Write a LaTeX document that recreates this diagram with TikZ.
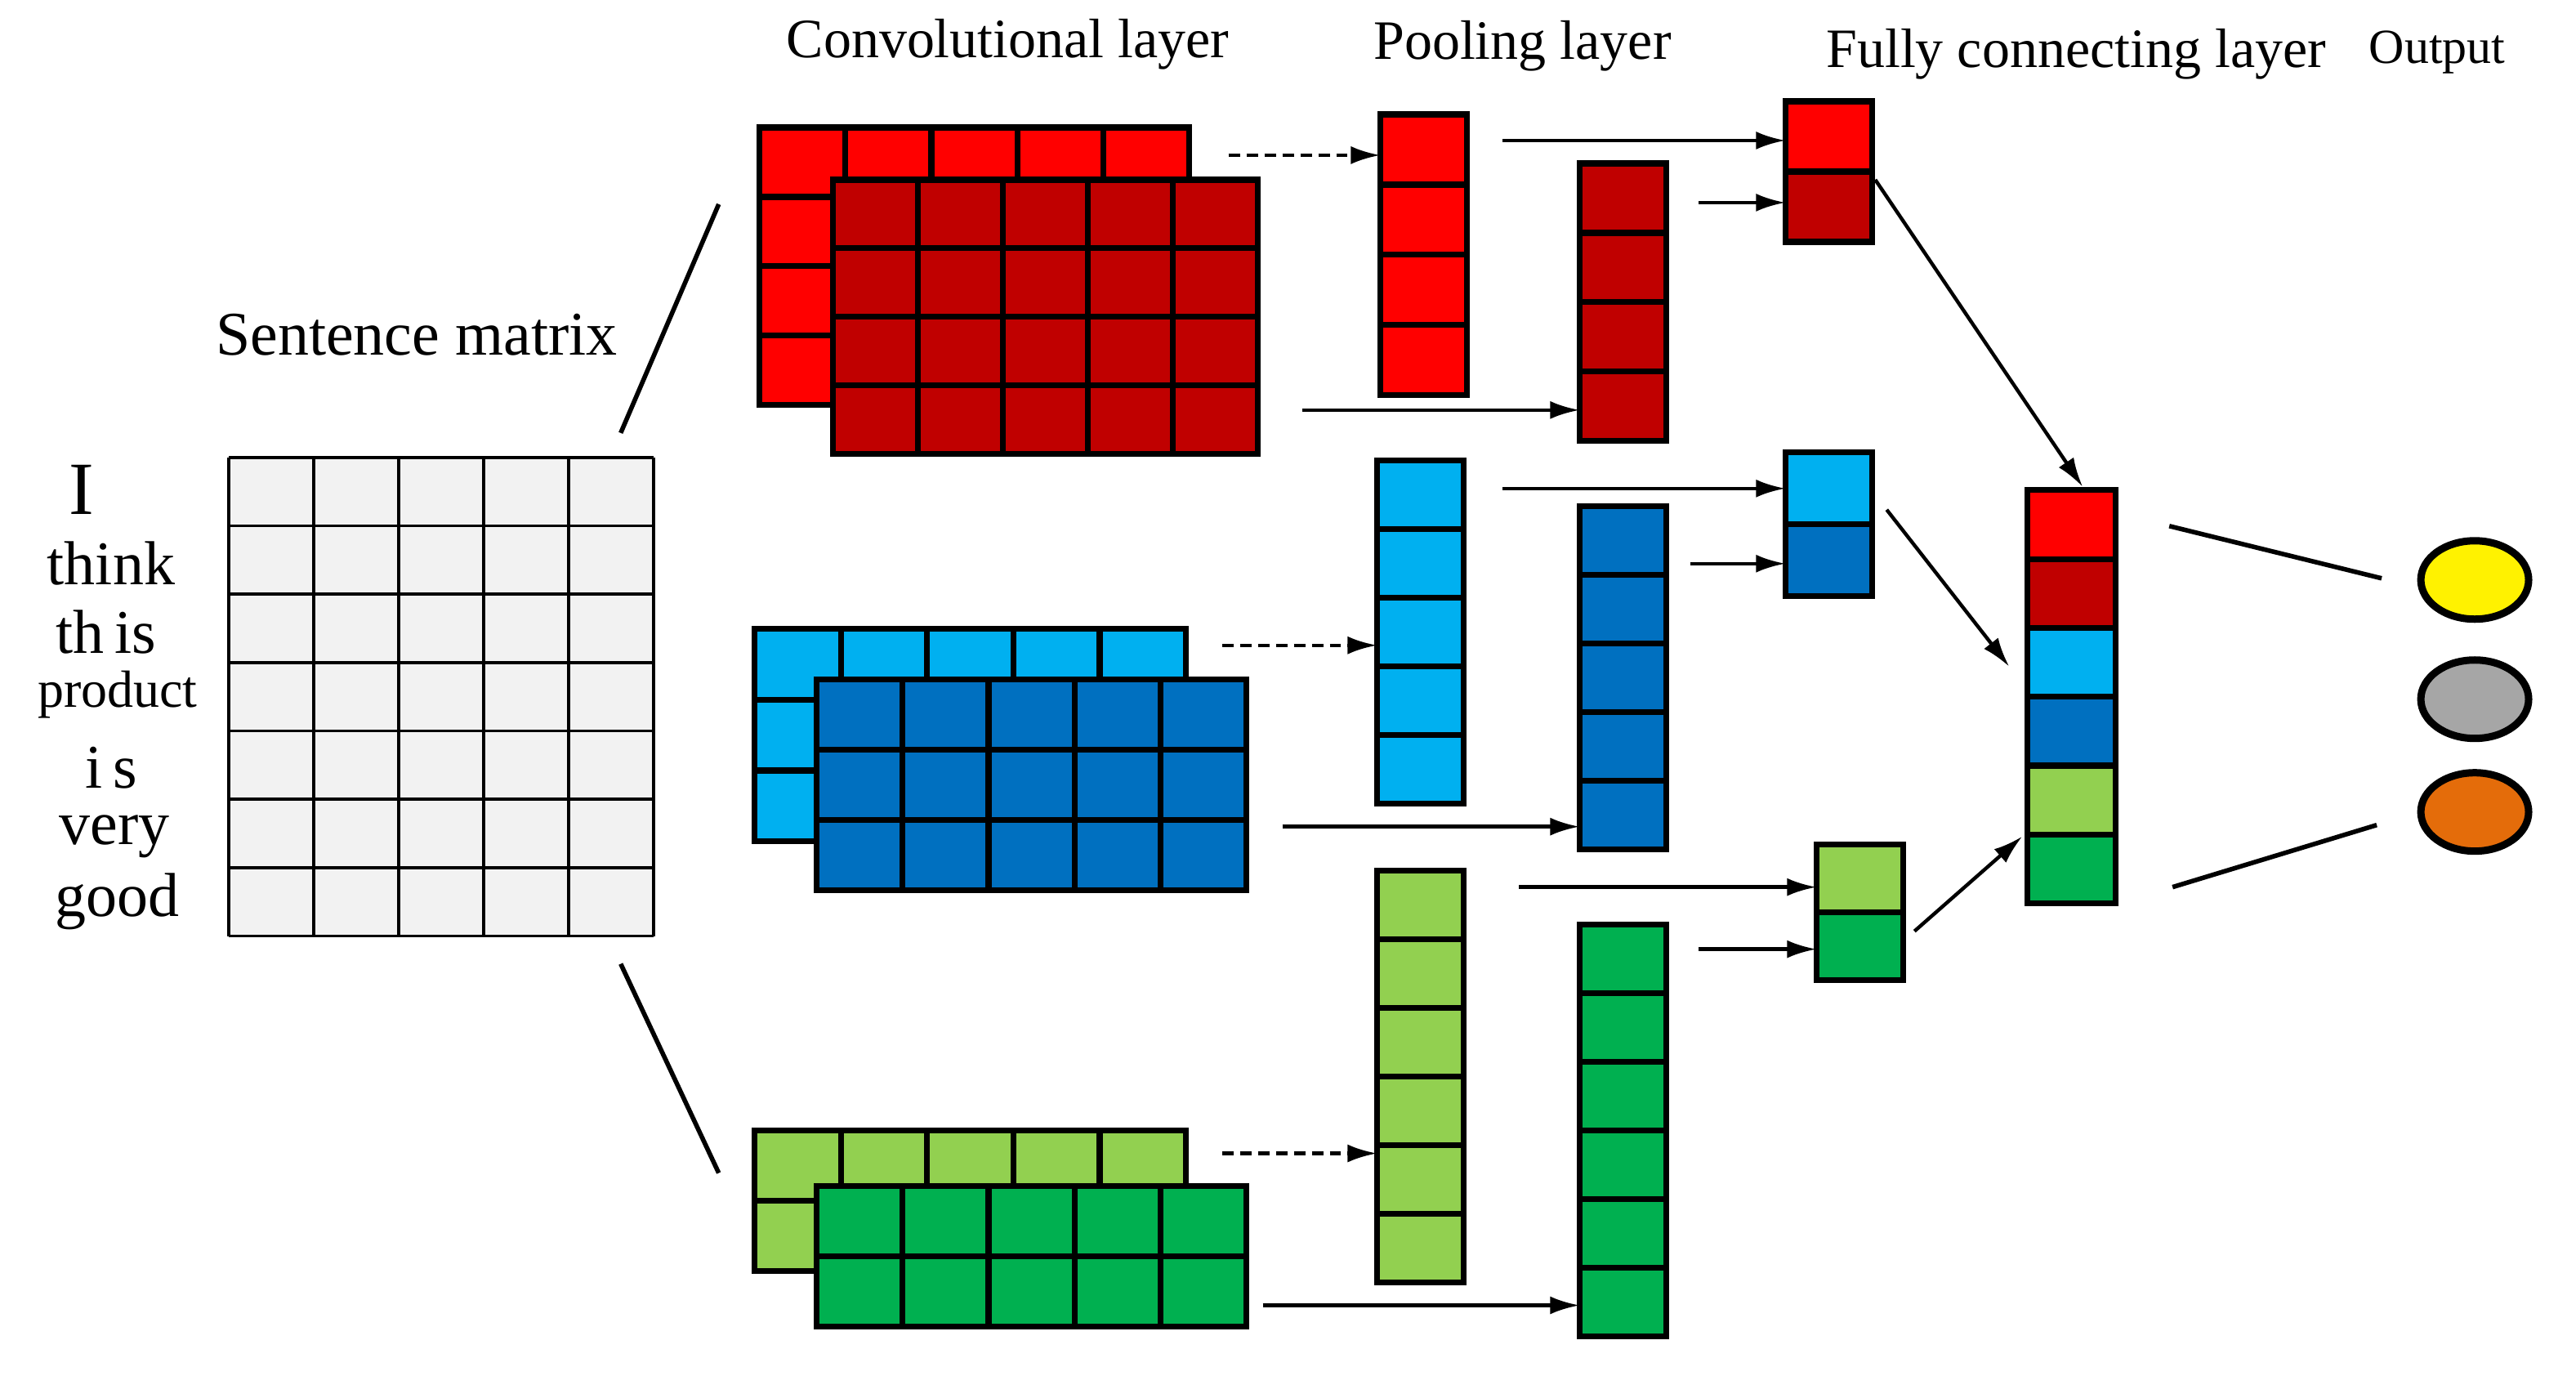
\documentclass[tikz,border=0pt]{standalone}
\usepackage{fontspec}
\setmainfont{Liberation Serif}
\usetikzlibrary{arrows.meta,shapes.geometric}
\definecolor{r1}{HTML}{FF0000}\definecolor{r2}{HTML}{C00000}
\definecolor{b1}{HTML}{00B0F0}\definecolor{b2}{HTML}{0070C0}
\definecolor{g1}{HTML}{92D050}\definecolor{g2}{HTML}{00B050}
\definecolor{sm}{HTML}{F2F2F2}\definecolor{og}{HTML}{E46C0A}
\newcommand\mygrid[7]{% x1 y1 x2 y2 cols rows color
  \path[fill=#7] (#1,#2) rectangle (#3,#4);
  \foreach \i in {0,...,#5}{\draw[cellb] ({#1+(#3-#1)*\i/#5},#2) -- ({#1+(#3-#1)*\i/#5},#4);}
  \foreach \j in {0,...,#6}{\draw[cellb] (#1,{#2+(#4-#2)*\j/#6}) -- (#3,{#2+(#4-#2)*\j/#6});}
}
\begin{document}
\begin{tikzpicture}[x=1pt,y=-1pt,
  cellb/.style={line width=3.6pt,line cap=rect},
  arr/.style={line width=2.2pt,-{Latex[length=18pt,width=11pt]}},
  dar/.style={arr,dashed,dash pattern=on 7pt off 4pt},
  ln/.style={line width=2.8pt},
  ttl/.style={font=\fontsize{34}{36}\selectfont},
  wd/.style={font=\fontsize{38}{40}\selectfont}]
\useasboundingbox (0,0) rectangle (1577,842);
% sentence matrix
\fill[sm] (140,280) rectangle (400,573);
\foreach \i in {0,...,5}{\draw[line width=1.8pt] ({140+52*\i},280) -- ({140+52*\i},573);}
\foreach \j in {0,...,7}{\draw[line width=1.8pt] (140,{280+293*\j/7}) -- (400,{280+293*\j/7});}
\node[wd,font=\fontsize{46}{48}\selectfont] (w1) at (50,300) {I};
\node[wd] (w2) at (68,345) {think};
\node[wd] (w3) at (65,387) {th\,is};
\node[wd,font=\fontsize{32}{34}\selectfont] (w4) at (72,425) {product};
\node[wd] (w5) at (68,470) {i\,s};
\node[wd] (w6) at (70,512) {very};
\node[wd] (w7) at (72,552) {good};
\node[wd] (sm) at (255,205) {Sentence matrix};
\draw[ln] (380,265) -- (440,125);
\draw[ln] (380,590) -- (440,718);
% conv layers
\mygrid{465}{78}{728}{248}{5}{4}{r1}
\mygrid{510}{110}{770}{278}{5}{4}{r2}
\mygrid{462}{385}{726}{515}{5}{3}{b1}
\mygrid{500}{416}{763}{545}{5}{3}{b2}
\mygrid{462}{692}{726}{778}{5}{2}{g1}
\mygrid{500}{726}{763}{812}{5}{2}{g2}
% pooling
\mygrid{845}{70}{898}{242}{1}{4}{r1}
\mygrid{967}{100}{1020}{270}{1}{4}{r2}
\mygrid{843}{282}{896}{492}{1}{5}{b1}
\mygrid{967}{310}{1020}{520}{1}{5}{b2}
\mygrid{843}{533}{896}{785}{1}{6}{g1}
\mygrid{967}{566}{1020}{818}{1}{6}{g2}
% FC small
\fill[r1] (1093,62) rectangle (1146,105);\fill[r2] (1093,105) rectangle (1146,148);
\mygrid{1093}{62}{1146}{148}{1}{2}{none}
\fill[b1] (1093,277) rectangle (1146,321);\fill[b2] (1093,321) rectangle (1146,365);
\mygrid{1093}{277}{1146}{365}{1}{2}{none}
\fill[g1] (1112,517) rectangle (1165,558);\fill[g2] (1112,558) rectangle (1165,600);
\mygrid{1112}{517}{1165}{600}{1}{2}{none}
% concat
\foreach \c [count=\k from 0] in {r1,r2,b1,b2,g1,g2}{\fill[\c] (1241,{300+42.17*\k}) rectangle (1295,{300+42.17*(\k+1)});}
\mygrid{1241}{300}{1295}{553}{1}{6}{none}
% outputs
\foreach \c/\y [count=\k] in {yellow/355,black!35/428,og/497}{
  \node[draw,line width=4.5pt,fill=\c,ellipse,minimum width=66pt,minimum height=48pt,inner sep=0pt] (o\k) at (1515,\y) {};}
% arrows
\draw[dar] (752,95) -- (845,95);
\draw[dar] (748,395) -- (843,395);
\draw[dar] (748,706) -- (843,706);
\draw[arr] (920,86) -- (1093,86);
\draw[arr] (1040,124) -- (1093,124);
\draw[arr] (797,251) -- (967,251);
\draw[arr] (920,299) -- (1093,299);
\draw[arr] (1035,345) -- (1093,345);
\draw[arr] (785,506) -- (967,506);
\draw[arr] (930,543) -- (1112,543);
\draw[arr] (1040,581) -- (1112,581);
\draw[arr] (773,799) -- (967,799);
\draw[arr] (1148,110) -- (1275,298);
\draw[arr] (1155,312) -- (1230,408);
\draw[arr] (1172,570) -- (1238,512);
\draw[ln] (1328,322) -- (1458,354);
\draw[ln] (1330,543) -- (1455,505);
% titles
\node[ttl] (t1) at (617,27) {Convolutional layer};
\node[ttl] (t2) at (932,28) {Pooling layer};
\node[ttl] (t3) at (1271,33) {Fully connecting layer};
\node[ttl,font=\fontsize{30}{32}\selectfont] (t4) at (1492,32) {Output};
\end{tikzpicture}
\end{document}
